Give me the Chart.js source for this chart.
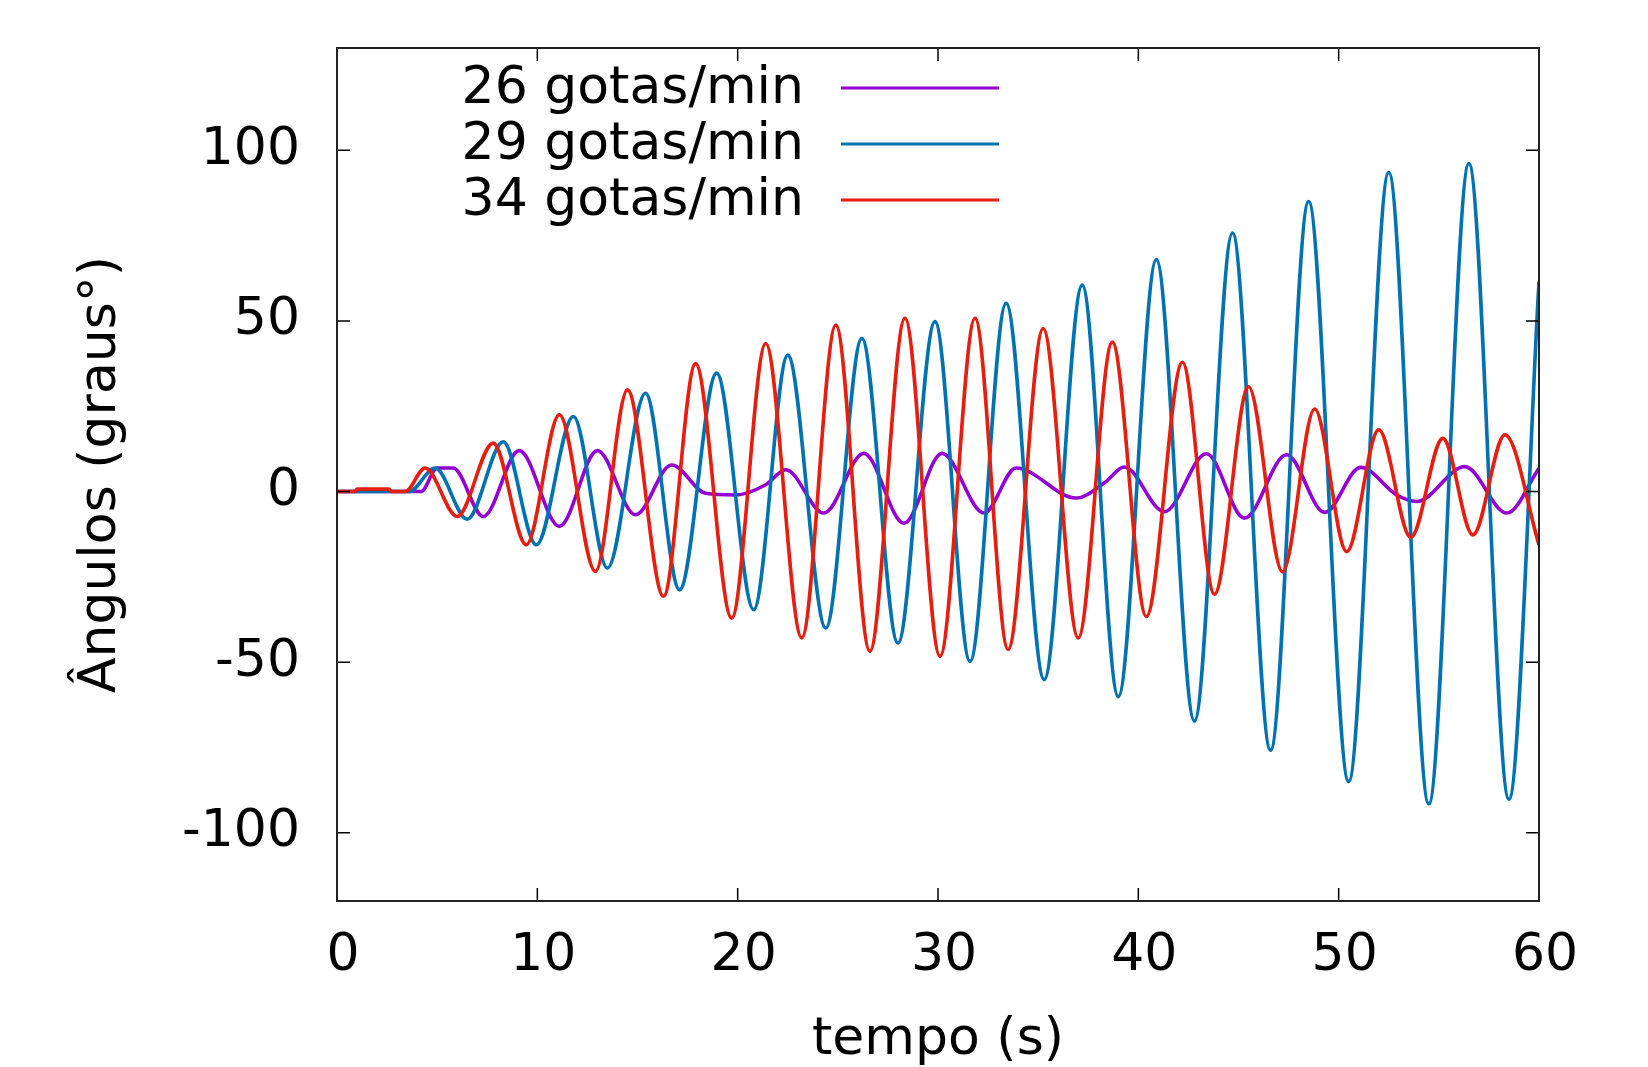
<!DOCTYPE html>
<html>
<head>
<meta charset="utf-8">
<script src="https://cdn.jsdelivr.net/npm/chart.js@4.4.1/dist/chart.umd.min.js"></script>
<style>
  html, body { margin: 0; padding: 0; background: #fff; }
  canvas { display: block; }
</style>
</head>
<body>
<canvas id="chart" width="1648" height="1067"></canvas>
<script>
const labels = ['26 gotas/min', '29 gotas/min', '34 gotas/min'];
const colors = ['#9400d3', '#0072b2', '#e51e10'];

const t26 = [0, 4.2, 5.0, 5.8, 7.3, 9.1, 11.1, 13.0, 14.9, 16.7, 18.4, 19.9, 21.4, 22.4, 24.3, 26.3, 28.3,
  30.2, 32.3, 33.9, 36.9, 38.3, 39.3, 41.3, 43.4, 45.3, 47.4, 49.3, 51.1, 52.9, 53.9, 56.3, 58.4, 60];
const a26 = [0, 0, 6.9, 6.9, -7.3, 12.0, -10.2, 12.0, -6.8, 7.8, -0.5, -1.0, 2.0, 6.4, -6.3, 11.2, -9.3,
  11.2, -6.3, 6.9, -1.9, 2.5, 7.2, -5.9, 11.1, -7.8, 10.8, -6.1, 7.1, -1.0, -2.9, 7.3, -6.3, 6.8];

const t29 = [0, 3.6, 4.9, 6.5, 8.3, 9.95, 11.8, 13.5, 15.4, 17.1, 18.95, 20.8, 22.5, 24.4, 26.2, 28.0, 29.85,
  31.6, 33.4, 35.3, 37.2, 39.0, 40.9, 42.8, 44.7, 46.6, 48.5, 50.5, 52.5, 54.5, 56.5, 58.5, 60];
const a29 = [0, 0, 6.9, -8.1, 14.6, -15.6, 22.0, -22.4, 28.8, -28.8, 34.7, -34.6, 40.0, -40.0, 44.9, -44.4, 49.8,
  -49.8, 55.2, -55.1, 60.5, -60.1, 68.0, -67.3, 75.8, -75.8, 85.0, -85.0, 93.5, -91.5, 96.1, -90.2, 61.5];

const t34 = [0, 0.9, 1.0, 2.6, 2.7, 3.4, 4.4, 6.0, 7.8, 9.45, 11.1, 12.9, 14.5, 16.3, 17.9, 19.7, 21.4, 23.2,
  24.9, 26.6, 28.35, 30.1, 31.85, 33.5, 35.25, 37.0, 38.7, 40.4, 42.2, 43.8, 45.5, 47.2, 48.8, 50.4, 52.0,
  53.6, 55.2, 56.7, 58.3, 60];
const a34 = [0, 0, 0.7, 0.7, 0, 0, 6.9, -7.3, 14.2, -15.6, 22.5, -23.4, 29.8, -30.7, 37.5, -37.1, 43.4, -42.9,
  48.8, -46.8, 50.8, -48.3, 50.8, -46.3, 47.8, -42.9, 43.8, -36.6, 37.9, -30.1, 30.7, -23.5, 24.2, -17.6, 18.1,
  -13.4, 15.6, -12.7, 16.6, -15.6];

const xTicks = [0, 10, 20, 30, 40, 50, 60];
const yTicks = [-100, -50, 0, 50, 100];

const FONT = '"DejaVu Sans", sans-serif';
Chart.defaults.font.family = FONT;
Chart.defaults.font.size = 52;
Chart.defaults.color = '#000';

function pts(t, a) {
  return t.map((v, i) => ({ x: v, y: a[i] }));
}

// moldura estilo gnuplot: borda, marcas para dentro nos 4 lados e legenda
const gnuplotFrame = {
  id: 'gnuplotFrame',
  afterDatasetsDraw(chart) {
    const { ctx, chartArea: a, scales: { x, y } } = chart;
    ctx.save();
    ctx.strokeStyle = '#000';
    ctx.lineWidth = 1.5;
    ctx.beginPath();
    xTicks.forEach(v => {
      const px = x.getPixelForValue(v);
      ctx.moveTo(px, a.bottom); ctx.lineTo(px, a.bottom - 13);
      ctx.moveTo(px, a.top); ctx.lineTo(px, a.top + 13);
    });
    yTicks.forEach(v => {
      const py = y.getPixelForValue(v);
      ctx.moveTo(a.left, py); ctx.lineTo(a.left + 13, py);
      ctx.moveTo(a.right, py); ctx.lineTo(a.right - 13, py);
    });
    ctx.stroke();
    ctx.lineWidth = 2;
    ctx.strokeStyle = '#222';
    ctx.strokeRect(a.left, a.top, a.right - a.left, a.bottom - a.top);

    // legenda: texto alinhado a direita e amostra da linha
    ctx.font = '52px ' + FONT;
    ctx.textAlign = 'right';
    ctx.textBaseline = 'alphabetic';
    chart.data.datasets.forEach((ds, i) => {
      const ly = 88 + 56 * i;
      ctx.fillStyle = '#000';
      ctx.fillText(ds.label, 804, ly + 15);
      ctx.strokeStyle = ds.borderColor;
      ctx.lineWidth = 3;
      ctx.beginPath();
      ctx.moveTo(841, ly);
      ctx.lineTo(999, ly);
      ctx.stroke();
    });
    ctx.restore();
  }
};

const series = [pts(t26, a26), pts(t29, a29), pts(t34, a34)];

new Chart(document.getElementById('chart'), {
  type: 'line',
  data: {
    datasets: series.map((d, i) => ({
      label: labels[i],
      data: d,
      borderColor: colors[i],
      borderWidth: 3.6,
      pointRadius: 0,
      fill: false,
      cubicInterpolationMode: 'monotone',
      order: 3 - i,
    })),
  },
  options: {
    responsive: false,
    animation: false,
    layout: { padding: { top: 48, right: 109, left: 0, bottom: 0 } },
    plugins: {
      legend: { display: false },
      tooltip: { enabled: false },
    },
    scales: {
      x: {
        type: 'linear',
        min: 0,
        max: 60,
        afterBuildTicks: s => { s.ticks = xTicks.map(v => ({ value: v })); },
        afterFit: s => { s.height = 166; s.paddingLeft = 0; s.paddingRight = 0; },
        grid: { display: false, drawTicks: false },
        border: { display: false },
        ticks: { padding: 24, maxRotation: 0, labelOffset: 6 },
        title: {
          display: true,
          text: 'tempo (s)',
          font: { lineHeight: 1.0 },
          padding: { top: 0, bottom: 1 },
        },
      },
      y: {
        type: 'linear',
        min: -120,
        max: 130,
        afterBuildTicks: s => { s.ticks = yTicks.map(v => ({ value: v })); },
        afterFit: s => { s.width = 337; s.paddingTop = 0; s.paddingBottom = 0; },
        grid: { display: false, drawTicks: false },
        border: { display: false },
        ticks: { padding: 37 },
        title: {
          display: true,
          text: 'Ângulos (graus°)',
          padding: { top: 70, bottom: 0 },
        },
      },
    },
  },
  plugins: [gnuplotFrame],
});
</script>
</body>
</html>
